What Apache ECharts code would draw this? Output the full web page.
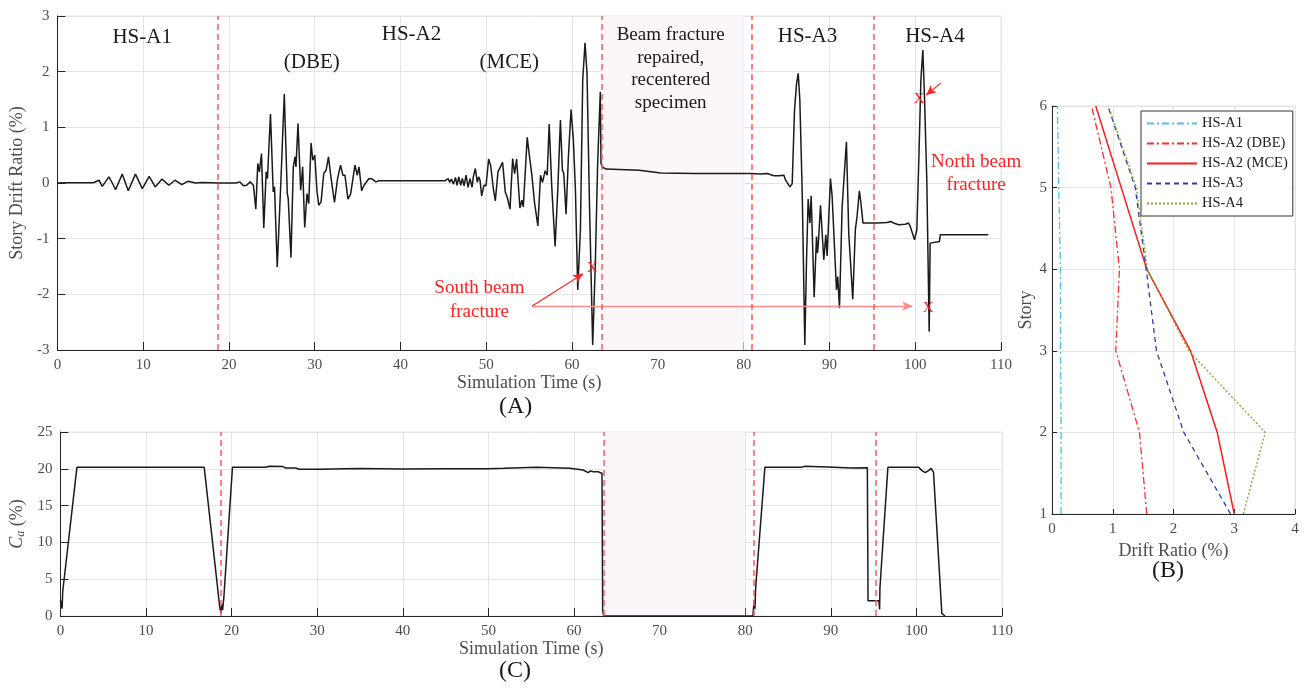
<!DOCTYPE html>
<html>
<head>
<meta charset="utf-8">
<script src="https://cdn.jsdelivr.net/npm/echarts@6/dist/echarts.min.js"></script>
<style>html,body{margin:0;padding:0;background:#fff}#c{width:1304px;height:688px}</style>
</head>
<body>
<div id="c"></div>
<script>
// ---------- Panel A: story drift ratio time history ----------
const driftTime = [0,1.5,4.0,4.26,4.85,5.23,5.6,6.0,6.4,6.78,7.56,8.26,9.1,9.9,10.7,11.4,12.2,13.0,13.7,14.5,15.2,16.1,16.9,18.8,20.8,21.29,21.68,22.07,22.46,22.85,
23.13,23.36,23.55,23.79,24.06,24.34,24.49,24.84,25.16,25.31,25.63,26.09,26.45,26.80,26.91,27.23,27.50,27.70,27.81,28.05,28.36,28.59,28.83,29.10,29.30,29.57,29.77,30.00,
30.27,30.47,30.74,31.05,31.33,31.60,31.91,32.30,32.66,33.01,33.28,33.52,33.87,34.18,34.38,34.69,34.96,35.16,35.47,35.74,35.94,36.33,36.72,37.11,37.50,
45.16,45.55,45.74,45.93,46.17,46.40,46.59,46.79,47.02,47.21,47.41,47.64,47.87,48.10,48.34,48.49,48.72,48.96,49.11,49.27,49.46,49.73,49.97,50.27,50.51,50.82,51.05,
51.36,51.59,51.90,52.21,52.45,52.76,53.07,53.30,53.53,53.92,54.15,54.31,54.77,55.00,55.31,55.62,56.01,56.32,56.55,56.86,57.10,57.33,
57.63,58.02,58.33,58.64,58.87,59.03,59.30,59.57,59.88,60.15,60.39,60.66,60.97,61.24,61.51,61.74,62.01,62.40,62.71,62.98,63.29,63.37,63.52,63.95,
67.83,68.02,70.35,74.22,80.81,81.98,82.76,83.53,84.11,84.69,84.89,85.39,85.66,85.93,86.17,86.36,86.55,86.83,87.13,87.33,87.52,87.72,87.87,88.22,88.49,88.61,88.72,
88.96,89.34,89.58,89.73,90.12,90.31,90.43,90.82,90.97,91.17,91.48,91.67,91.98,92.25,92.45,92.72,93.02,93.22,93.49,93.68,93.91,95.54,96.70,97.17,97.48,98.06,98.84,
99.22,99.42,99.61,99.92,100.19,100.46,100.66,100.89,101.08,101.35,101.63,101.74,101.86,102.83,102.91,108.52];
const driftValue = [0,0.005,0.005,0.01,0.05,-0.06,0.02,0.11,0.0,-0.12,0.16,-0.14,0.16,-0.1,0.12,-0.07,0.07,-0.04,0.05,-0.03,0.03,0,0.01,0,0,0.02,-0.05,-0.04,0.02,-0.04,
-0.47,0.35,0.20,0.53,-0.81,0.20,0.08,1.24,-0.16,-0.07,-1.51,0.17,1.60,-0.19,-0.28,-1.34,0.29,0.47,0.29,1.07,-0.13,0.29,-0.80,-0.19,-0.37,0.72,0.41,0.50,
-0.16,-0.40,-0.34,0.17,0.23,0.47,0.08,-0.35,0.08,0.32,0.14,0.14,-0.29,-0.20,-0.19,0.32,0.14,0.29,-0.14,-0.04,-0.01,0.08,0.07,0.02,0.04,
0.04,0.08,0.01,0.07,-0.02,0.10,-0.04,0.11,-0.04,0.08,-0.05,0.14,-0.08,0.08,-0.08,0.11,0.26,0.01,0.11,0.05,-0.23,-0.04,-0.05,0.43,0.31,-0.10,-0.32,
0.20,0.23,0.37,-0.16,-0.26,-0.47,0.44,0.17,0.43,-0.45,-0.31,-0.43,0.82,0.52,0.14,-0.35,-0.77,0.14,0.01,0.22,0.14,1.06,
-0.07,-1.14,-0.13,1.13,0.23,0.17,-0.56,0.47,1.32,0.77,-0.13,-1.92,-0.84,1.85,2.52,1.97,-0.25,-2.91,-1.44,0.35,1.64,0.35,0.29,0.25,
0.23,0.20,0.18,0.17,0.17,0.16,0.17,0.13,0.13,0.14,0.05,-0.07,-0.01,1.31,1.79,1.97,1.49,-0.19,-2.91,-1.38,-0.29,-0.72,-0.23,-2.05,-0.96,-1.26,-1.05,
-0.40,-1.38,-0.93,-1.31,0.08,-0.23,-0.22,-1.92,-1.68,-2.25,-0.43,-0.43,0.74,-0.90,-0.93,-2.09,-0.84,-0.60,-0.14,-0.37,-0.72,-0.72,-0.71,-0.69,-0.72,-0.75,-0.74,
-0.72,-0.78,-0.87,-1.02,-0.84,0.65,1.85,2.39,1.55,0.05,-2.67,-1.08,-1.05,-1.05,-0.93,-0.93];

// ---------- Panel C: Ca (%) time history ----------
const caTime  = [0,0.15,0.2,0.27,1.93,16.8,18.55,18.62,18.75,18.85,18.95,19.1,20.1,24.0,24.4,26.0,26.3,27.5,27.9,30,35,40,45,50,51.79,55.66,59.52,61.07,61.65,61.92,62.23,62.81,63.27,63.35,63.46,
80.9,80.95,81.07,81.14,81.22,82.3,86.55,86.93,90.41,92.34,94.27,94.35,95.63,95.7,95.74,96.67,100.26,100.65,101.03,101.42,101.73,102.0,102.97,103.35];
const caValue = [2.2,2.0,1.0,3.3,20.2,20.2,1.9,1.2,0.4,1.6,0.8,2.6,20.2,20.2,20.35,20.3,20.1,20.1,19.95,19.95,20.05,19.98,20.0,20.02,20.06,20.2,20.06,19.84,19.48,19.7,19.6,19.6,19.4,0.8,0,
0,0.8,2.2,1.0,3.8,20.2,20.2,20.33,20.2,20.1,20.15,2.08,2.08,0.9,3.8,20.2,20.2,19.75,19.48,19.75,20.06,19.52,0.36,0];

// test boundaries (s) and repaired/recentered window (s)
const testBoundaries = [18.7, 63.45, 80.95, 95.2];
const repairWindow = [63.5, 80.0];

// ---------- Panel B: peak story drift profiles ----------
const stories = [1,2,3,4,5,6];
const driftA1    = [0.15,0.15,0.14,0.14,0.11,0.09];
const driftA2DBE = [1.56,1.44,1.05,1.11,0.97,0.65];
const driftA2MCE = [3.00,2.72,2.28,1.56,1.14,0.72];
const driftA3    = [2.94,2.17,1.72,1.55,1.37,0.92];
const driftA4    = [3.15,3.51,2.25,1.57,1.39,0.93];
const profileNames = ['HS-A1','HS-A2 (DBE)','HS-A2 (MCE)','HS-A3','HS-A4'];

// axis tick ranges
const timeRange = [0,110,10];
const driftRange = [-3,3,1];
const caRange = [0,25,5];
const profXRange = [0,4,1];
const storyRange = [1,6,1];

const FONT = 'Liberation Serif';
const AX = '#262626', LBL = '#4d4d4d', GRIDC = '#e4e4e4';
const RED = '#ff2020', DASHRED = '#ff5a5a';

function valAxis(gi, r, extra){
  return Object.assign({
    type:'value', gridIndex:gi, min:r[0], max:r[1], interval:r[2],
    axisLine:{show:true,onZero:false,lineStyle:{color:AX,width:1}},
    axisTick:{show:true,inside:true,length:8,lineStyle:{color:AX}},
    axisLabel:{color:LBL,fontSize:15,fontFamily:FONT,margin:8},
    splitLine:{show:true,lineStyle:{color:GRIDC,width:1}},
    nameTextStyle:{color:LBL,fontSize:18,fontFamily:FONT},
    nameLocation:'middle'
  }, extra||{});
}

const pairs = (xs, ys) => xs.map((x,i)=>[x, ys[i]]);

function txt(coord, text, color, size, lh){
  return {coord:coord, symbol:'circle', symbolSize:0,
    label:{show:true, position:'inside', formatter:text, color:color, fontSize:size, fontFamily:FONT, lineHeight:lh||size*1.2, align:'center'}};
}

// boundary lines: a dedicated empty series per panel, drawn above the shaded window
function boundarySeries(ai){
  return {
    type:'line', xAxisIndex:ai, yAxisIndex:ai, data:[], silent:true, z:6,
    markLine:{silent:true, symbol:['none','none'], label:{show:false}, z:6,
      lineStyle:{color:DASHRED, type:[6,4], width:1.5, opacity:1},
      emphasis:{disabled:true},
      data:testBoundaries.map(t=>({xAxis:t, lineStyle:{color:DASHRED, type:[6,4], width:1.5}}))}
  };
}

const chart = echarts.init(document.getElementById('c'), null, {renderer:'canvas'});
const lineDash = {
  'HS-A1':[7,3,2,3], 'HS-A2 (DBE)':[7,3,2,3], 'HS-A2 (MCE)':'solid', 'HS-A3':[5,4], 'HS-A4':[2,2]
};
const profColors = {'HS-A1':'#4dbeee','HS-A2 (DBE)':'#ff2a2a','HS-A2 (MCE)':'#ff1a1a','HS-A3':'#2b3ea8','HS-A4':'#77ac30'};
const profData = [driftA1, driftA2DBE, driftA2MCE, driftA3, driftA4];

const option = {
  animation:false,
  grid:[
    {left:55, top:16, width:946, height:334, show:true, borderColor:GRIDC, borderWidth:1},
    {left:53, top:432, width:949, height:184, show:true, borderColor:GRIDC, borderWidth:1},
    {left:1052, top:106, width:243, height:408, show:true, borderColor:GRIDC, borderWidth:1}
  ],
  xAxis:[
    valAxis(0, timeRange, {name:'Simulation Time (s)', nameGap:24}),
    valAxis(1, timeRange, {name:'Simulation Time (s)', nameGap:24}),
    valAxis(2, profXRange, {name:'Drift Ratio (%)', nameGap:22, axisTick:{show:true,inside:true,length:5,lineStyle:{color:AX}}})
  ],
  yAxis:[
    valAxis(0, driftRange, {name:'Story Drift Ratio (%)', nameGap:28}),
    valAxis(1, caRange, {name:'{c|C}{a|a}{n| (%)}', nameGap:26,
      nameTextStyle:{color:LBL,fontSize:18,fontFamily:FONT,
        rich:{c:{fontStyle:'italic',fontSize:18,fontFamily:FONT,color:LBL},
              a:{fontStyle:'italic',fontSize:12,fontFamily:FONT,color:LBL,padding:[7,0,0,0]},
              n:{fontSize:18,fontFamily:FONT,color:LBL}}}}),
    valAxis(2, storyRange, {name:'Story', nameGap:12,
      axisLabel:{color:LBL,fontSize:15,fontFamily:FONT,margin:5},
      axisTick:{show:true,inside:true,length:5,lineStyle:{color:AX}}})
  ],
  legend:{
    data:profileNames, orient:'vertical', left:1141, top:111,
    itemWidth:50, itemHeight:12, itemGap:5, padding:[5,5,5,5],
    borderColor:'#333', borderWidth:1, backgroundColor:'#fff',
    itemStyle:{opacity:0},
    textStyle:{fontFamily:FONT,fontSize:14.5,color:'#222'}
  },
  graphic:[
    {type:'text', left:499, top:395, style:{text:'(A)', font:'24px '+FONT, fill:'#1a1a1a'}},
    {type:'text', left:499, top:659, style:{text:'(C)', font:'24px '+FONT, fill:'#1a1a1a'}},
    {type:'text', left:1152, top:559, style:{text:'(B)', font:'24px '+FONT, fill:'#1a1a1a'}}
  ],
  series:[
    {
      type:'line', xAxisIndex:0, yAxisIndex:0, data:pairs(driftTime, driftValue),
      showSymbol:false, symbol:'none', lineStyle:{color:'#1a1a1a', width:1.5}, silent:true, z:3,
      markArea:{silent:true, itemStyle:{color:'#faf6f9'}, data:[[{xAxis:repairWindow[0]},{xAxis:repairWindow[1]}]]},
      markLine:{silent:true, symbol:['none','none'], label:{show:false},
        data:[
          [{coord:[55.35,-2.21], symbol:'none', lineStyle:{color:'#ff8a8a',type:'solid',width:1.3}},
           {coord:[99.65,-2.21], symbol:'arrow', symbolSize:[7,10]}],
          [{coord:[55.35,-2.21], symbol:'none', lineStyle:{color:RED,type:'solid',width:1.1}},
           {coord:[61.28,-1.63], symbol:'arrow', symbolSize:[7,10]}],
          [{coord:[103.0,1.80], symbol:'none', lineStyle:{color:RED,type:'solid',width:1.1}},
           {coord:[101.28,1.58], symbol:'arrow', symbolSize:[7,10]}]
        ]},
      markPoint:{silent:true, data:[
        txt([9.88,2.62],'HS-A1','#1a1a1a',21),
        txt([41.28,2.66],'HS-A2','#1a1a1a',21),
        txt([29.65,2.17],'(DBE)','#1a1a1a',21),
        txt([52.67,2.17],'(MCE)','#1a1a1a',21),
        txt([71.5,2.05],'Beam fracture\nrepaired,\nrecentered\nspecimen','#1a1a1a',19,22.5),
        txt([87.44,2.64],'HS-A3','#1a1a1a',21),
        txt([102.3,2.64],'HS-A4','#1a1a1a',21),
        txt([107.1,0.17],'North beam\nfracture',RED,19,23),
        txt([49.2,-2.1],'South beam\nfracture',RED,19,24),
        txt([62.33,-1.53],'X',RED,15),
        txt([101.5,-2.25],'X',RED,15),
        txt([100.47,1.51],'X',RED,15)
      ]}
    },
    {
      type:'line', xAxisIndex:1, yAxisIndex:1, data:pairs(caTime, caValue),
      showSymbol:false, symbol:'none', lineStyle:{color:'#1a1a1a', width:1.5}, silent:true, z:3,
      markArea:{silent:true, itemStyle:{color:'#faf6f9'}, data:[[{xAxis:repairWindow[0]},{xAxis:repairWindow[1]}]]}
    },
    boundarySeries(0),
    boundarySeries(1)
  ].concat(profileNames.map((n,k)=>({
    type:'line', name:n, xAxisIndex:2, yAxisIndex:2,
    data: profData[k].map((d,i)=>[d, stories[i]]),
    showSymbol:false, symbol:'none', silent:true,
    lineStyle:{color:profColors[n], width: n==='HS-A2 (MCE)'?1.5:1.3, type:lineDash[n]},
    itemStyle:{color:profColors[n]}
  })))
};
chart.setOption(option);
</script>
</body>
</html>
